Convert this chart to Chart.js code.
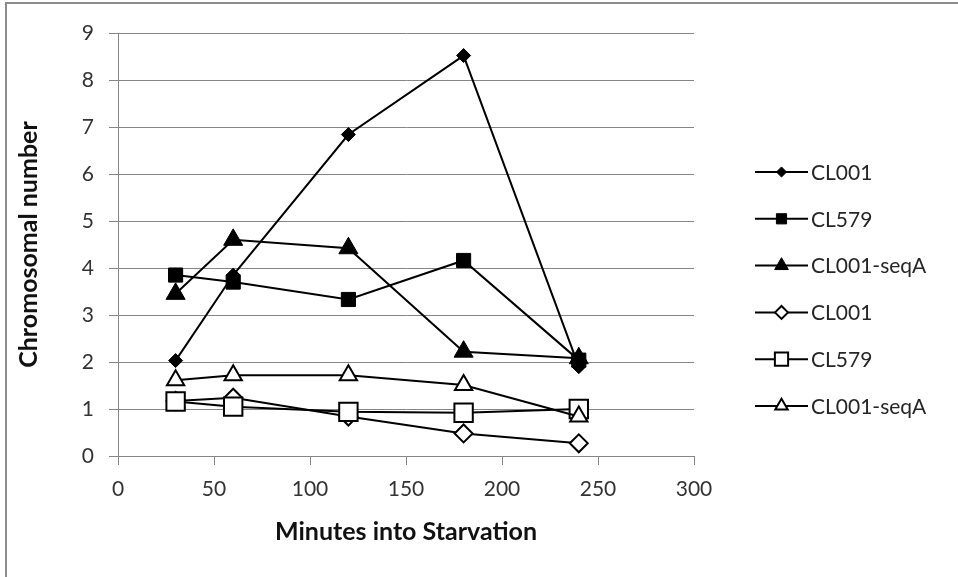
<!DOCTYPE html>
<html>
<head>
<meta charset="utf-8">
<script src="https://cdn.jsdelivr.net/npm/chart.js@4.4.1/dist/chart.umd.min.js"></script>
<style>
  html, body { margin: 0; padding: 0; background: #fff; }
  #wrap { position: relative; width: 958px; height: 577px; overflow: hidden; }
  #frame { position: absolute; left: 5px; top: 2px; right: -10px; bottom: -10px;
           border-left: 2px solid #8c8c8c; border-top: 2px solid #8c8c8c; }
  canvas { position: absolute; left: 0; top: 0; }
</style>
</head>
<body>
<div id="wrap">
  <div id="frame"></div>
  <canvas id="chromChart" width="958" height="577"></canvas>
</div>
<script>
// sampling times (minutes)
const minutes = [30, 60, 120, 180, 240];

// chromosomal number per strain; filled markers first, open markers after
const cl001A = [2.03, 3.85, 6.84, 8.52, 1.90];
const cl579A = [3.85, 3.70, 3.33, 4.16, 2.04];
const seqAA = [3.45, 4.60, 4.42, 2.22, 2.08];
const cl001B = [1.17, 1.24, 0.84, 0.48, 0.27];
const cl579B = [1.16, 1.05, 0.94, 0.92, 1.00];
const seqAB = [1.61, 1.72, 1.72, 1.51, 0.84];

const seriesLabels = ['CL001', 'CL579', 'CL001-seqA', 'CL001', 'CL579', 'CL001-seqA'];
const seriesValues = [cl001A, cl579A, seqAA, cl001B, cl579B, seqAB];

const xTicks = [0, 50, 100, 150, 200, 250, 300];
const yTicks = [0, 1, 2, 3, 4, 5, 6, 7, 8, 9];

const markers = [
  { style: 'rectRot', r: 7, fill: '#000', bw: 1 },
  { style: 'rect', r: 10, fill: '#000', bw: 1 },
  { style: 'triangle', r: 11, fill: '#000', bw: 1 },
  { style: 'rectRot', r: 9, fill: '#fff', bw: 2 },
  { style: 'rect', r: 13, fill: '#fff', bw: 2 },
  { style: 'triangle', r: 10, fill: '#fff', bw: 2 }
];

const FONT = 'Lato, "Open Sans", sans-serif';
const AXIS_GRAY = '#868686';

const datasets = seriesValues.map((vals, i) => ({
  label: seriesLabels[i],
  data: vals.map((v, j) => ({ x: minutes[j], y: v })),
  showLine: true,
  borderColor: '#000',
  borderWidth: 2,
  pointStyle: markers[i].style,
  pointRadius: markers[i].r,
  pointBackgroundColor: markers[i].fill,
  pointBorderColor: '#000',
  pointBorderWidth: markers[i].bw,
  order: 6 - i
}));

// legend on the right: short line with the marker in the middle, then the label
const sideLegend = {
  id: 'sideLegend',
  afterDraw(chart) {
    const ctx = chart.ctx;
    const x0 = 755, x1 = 808, top = 172, step = 46.8;
    ctx.save();
    chart.data.datasets.forEach((ds, i) => {
      const y = top + i * step;
      ctx.strokeStyle = '#000';
      ctx.lineWidth = 2;
      ctx.beginPath();
      ctx.moveTo(x0, y);
      ctx.lineTo(x1, y);
      ctx.stroke();
      ctx.fillStyle = markers[i].fill;
      ctx.lineWidth = markers[i].bw;
      Chart.helpers.drawPoint(ctx, {
        pointStyle: markers[i].style,
        radius: markers[i].r * 0.72,
        rotation: 0,
        borderWidth: markers[i].bw
      }, (x0 + x1) / 2, y);
      ctx.fillStyle = '#262626';
      ctx.font = '21px ' + FONT;
      ctx.textBaseline = 'middle';
      ctx.textAlign = 'left';
      ctx.fillText(ds.label, x1 + 3, y + 1);
    });
    ctx.restore();
  }
};

new Chart(document.getElementById('chromChart').getContext('2d'), {
  type: 'scatter',
  data: { datasets },
  options: {
    responsive: false,
    animation: false,
    layout: { padding: { left: 0, top: 33, right: 264, bottom: 0 } },
    plugins: { legend: { display: false }, tooltip: { enabled: false } },
    scales: {
      x: {
        type: 'linear',
        min: 0, max: 300,
        afterBuildTicks: (s) => { s.ticks = xTicks.map(v => ({ value: v })); },
        afterFit: (s) => { s.height = 121; },
        ticks: { color: '#333', padding: 12, font: { family: FONT, size: 21 } },
        grid: { drawOnChartArea: false, drawTicks: true, tickLength: 9, color: AXIS_GRAY },
        border: { color: AXIS_GRAY, width: 1 },
        title: {
          display: true, text: 'Minutes into Starvation', color: '#111',
          font: { family: FONT, size: 25, weight: 'bold' },
          padding: { top: 0, bottom: 30 }
        }
      },
      y: {
        min: 0, max: 9,
        afterBuildTicks: (s) => { s.ticks = yTicks.map(v => ({ value: v })); },
        afterFit: (s) => { s.width = 118; },
        ticks: { color: '#333', padding: 15, font: { family: FONT, size: 21 } },
        grid: { color: AXIS_GRAY, tickLength: 9 },
        border: { color: AXIS_GRAY, width: 1 },
        title: {
          display: true, text: 'Chromosomal number', color: '#111',
          font: { family: FONT, size: 25, weight: 'bold' },
          padding: { top: 14, bottom: 0 }
        }
      }
    }
  },
  plugins: [sideLegend]
});
</script>
</body>
</html>
